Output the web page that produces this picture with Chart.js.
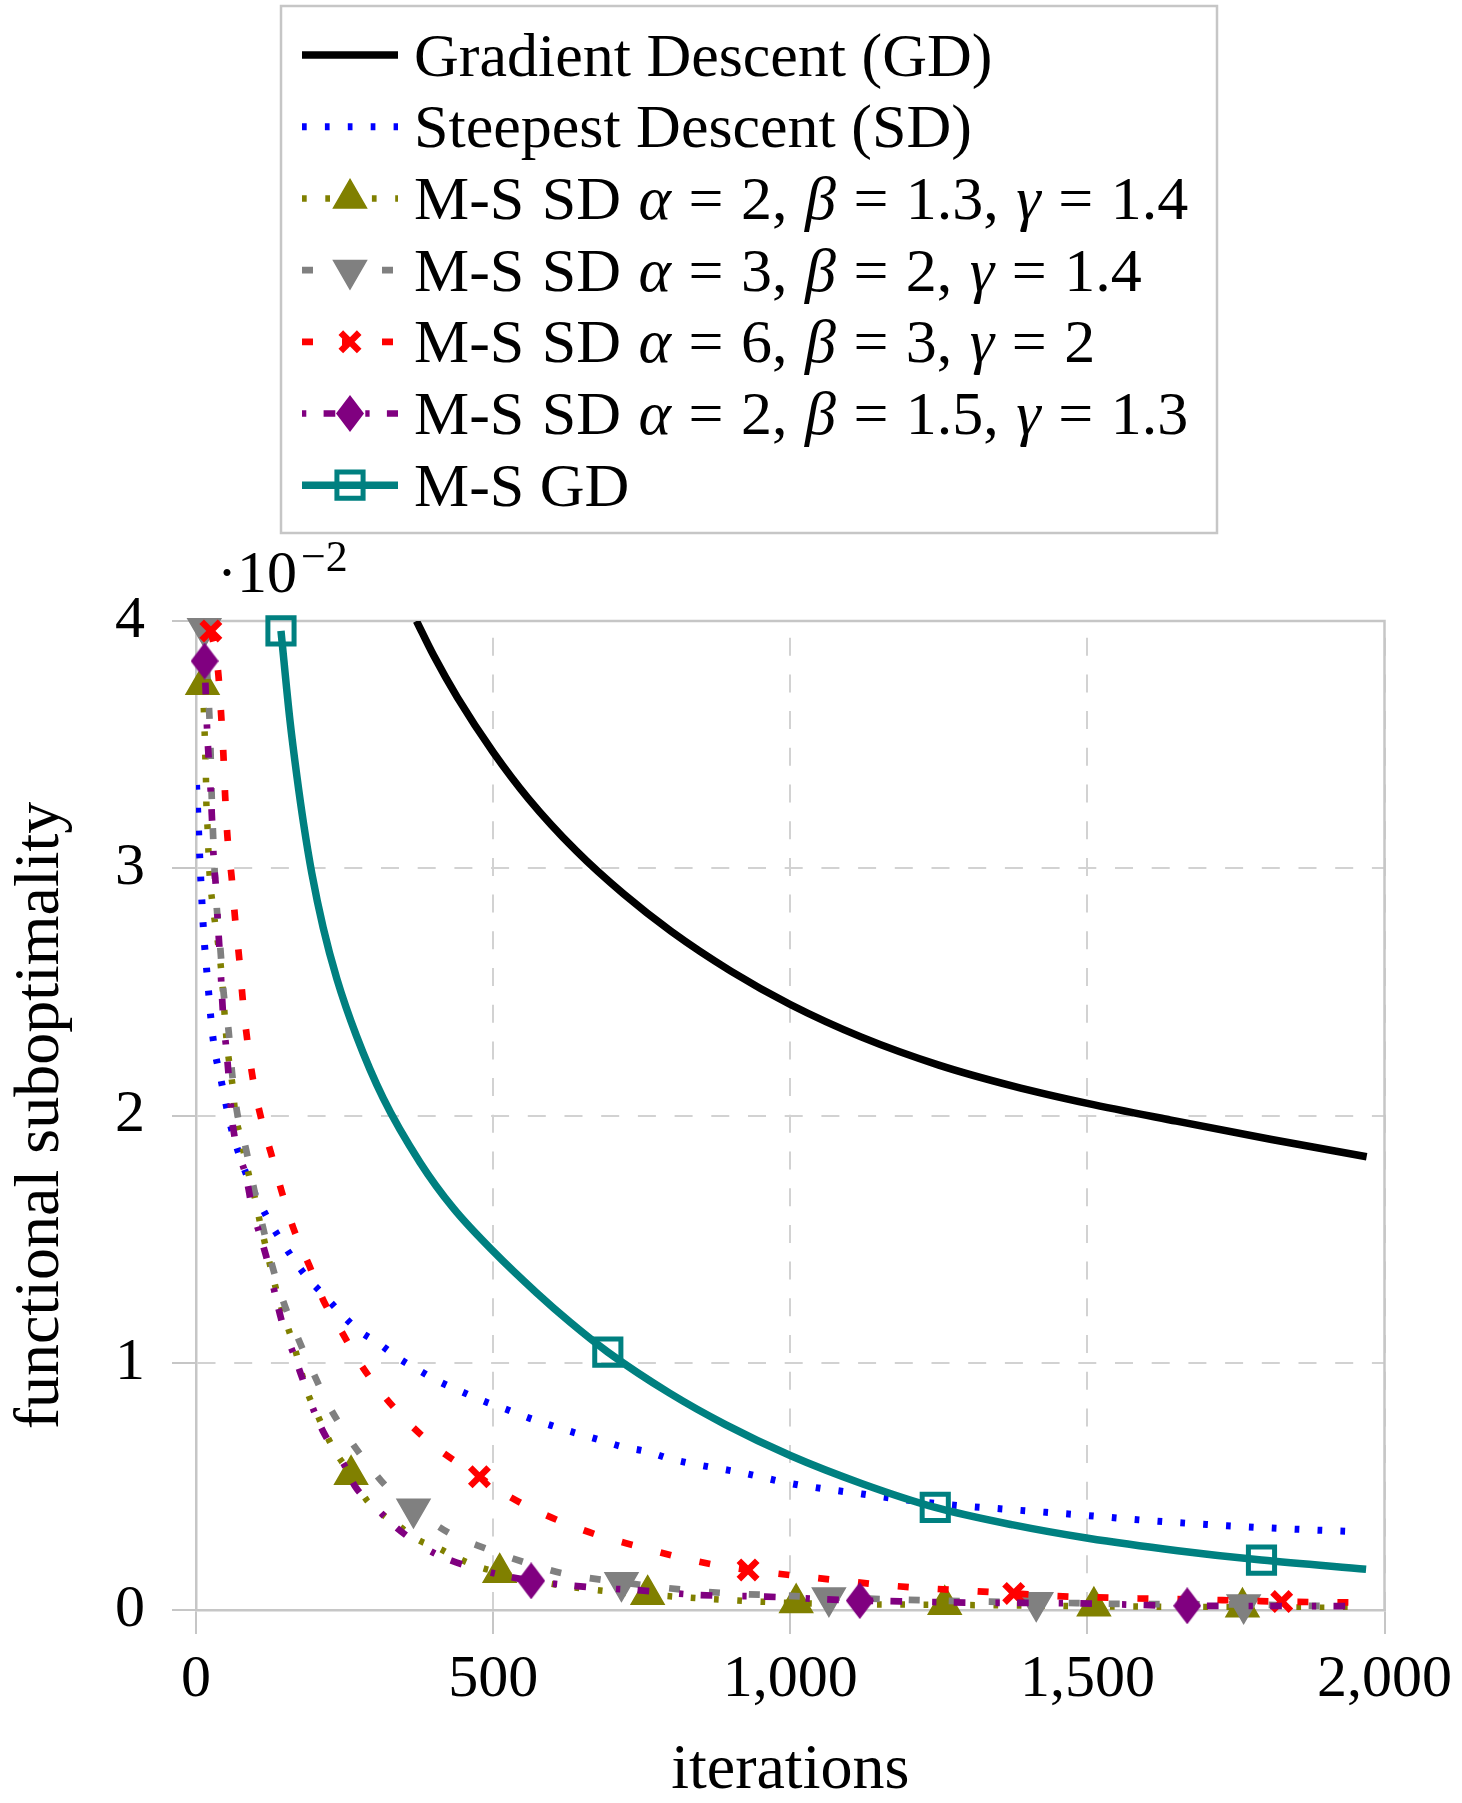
<!DOCTYPE html>
<html>
<head>
<meta charset="utf-8">
<script src="https://cdn.jsdelivr.net/npm/chart.js@4"></script>
<style>
  html, body { margin: 0; padding: 0; background: #fff; }
  canvas { display: block; }
</style>
</head>
<body>
<canvas id="plot" width="1462" height="1803"></canvas>
<script>
// Suboptimality f(x_k) - f* per iteration, values in units of 1e-2 (axis shows the ·10^-2 factor)

// Gradient Descent (GD)
const gdIter = [371, 400, 440, 500, 560, 640, 720, 800, 900, 1000, 1120, 1250, 1375, 1500, 1650, 1810, 1970];
const gdVal  = [4.00, 3.86, 3.69, 3.47, 3.28, 3.07, 2.895, 2.744, 2.584, 2.449, 2.317, 2.204, 2.119, 2.049, 1.977, 1.903, 1.833];

// Steepest Descent (SD)
const sdIter = [1, 4.5, 8.4, 12.8, 19.5, 27, 32.4, 41, 49, 58, 83, 119, 139, 161, 186, 215, 242, 273, 307, 341, 374, 410, 450, 486, 525, 562, 601, 640, 679, 718, 760, 800, 923, 1000, 1121, 1244, 1366, 1490, 1612, 1735, 1858, 1950];
const sdVal  = [3.337, 3.141, 2.939, 2.743, 2.548, 2.346, 2.252, 2.157, 2.063, 1.962, 1.773, 1.591, 1.51, 1.429, 1.348, 1.274, 1.204, 1.132, 1.079, 1.018, 0.971, 0.923, 0.88, 0.843, 0.809, 0.775, 0.744, 0.715, 0.688, 0.66, 0.64, 0.61, 0.553, 0.512, 0.469, 0.431, 0.407, 0.384, 0.36, 0.341, 0.326, 0.317];

// M-S SD alpha=2, beta=1.3, gamma=1.4
const ms1Iter = [11, 13, 14.5, 15.6, 16.8, 17.5, 19.5, 21, 23, 27, 42.5, 52, 62, 66, 74, 91, 100, 108, 116, 133, 144, 167, 186, 203, 231, 261, 287, 315, 343, 374, 408, 441, 475, 511, 593, 671, 760, 1010, 1260, 1511, 1761, 1960];
const ms1Val  = [3.742, 3.653, 3.552, 3.458, 3.357, 3.26, 3.161, 3.065, 2.969, 2.872, 2.586, 2.292, 2.11, 2.009, 1.921, 1.739, 1.658, 1.564, 1.483, 1.314, 1.22, 1.052, 0.89, 0.796, 0.654, 0.547, 0.445, 0.384, 0.337, 0.283, 0.25, 0.209, 0.175, 0.151, 0.108, 0.081, 0.062, 0.028, 0.021, 0.015, 0.011, 0.008];
const ms1MarkIter = [11, 261, 511, 760, 1010, 1260, 1511, 1761];
const ms1MarkVal  = [3.742, 0.547, 0.151, 0.062, 0.028, 0.021, 0.015, 0.011];

// M-S SD alpha=3, beta=2, gamma=1.4
const ms2Iter = [14, 21, 24, 25.7, 28, 31, 35, 41, 46, 55, 60.5, 69, 84.5, 98, 112.5, 128, 147, 171, 196.5, 223, 253.5, 288, 326, 366, 427, 486, 550, 617.5, 716, 824, 899, 970, 1065, 1327, 1414, 1545, 1763, 1898];
const ms2Val  = [3.971, 3.694, 3.519, 3.35, 3.182, 3.006, 2.838, 2.676, 2.508, 2.339, 2.177, 2.015, 1.86, 1.699, 1.55, 1.395, 1.247, 1.103, 0.964, 0.829, 0.708, 0.593, 0.485, 0.409, 0.31, 0.25, 0.195, 0.148, 0.112, 0.081, 0.067, 0.06, 0.051, 0.034, 0.031, 0.025, 0.022, 0.016];
const ms2MarkIter = [14, 366, 716, 1065, 1414, 1763];
const ms2MarkVal  = [3.971, 0.409, 0.112, 0.051, 0.031, 0.022];

// M-S SD alpha=6, beta=3, gamma=2
const ms3Iter = [25, 37, 42, 46, 49, 53, 60, 66, 73, 79, 87, 97, 111, 128, 146, 166, 191, 214, 245, 276, 312, 353, 399, 450, 477, 500, 556, 615, 676, 741, 808, 875, 929, 1014, 1085, 1157, 1228, 1299, 1376, 1442, 1585, 1727, 1827, 1955];
const ms3Val  = [3.96, 3.80, 3.633, 3.465, 3.296, 3.125, 2.963, 2.791, 2.629, 2.46, 2.292, 2.13, 1.975, 1.833, 1.678, 1.53, 1.391, 1.254, 1.126, 0.998, 0.879, 0.768, 0.667, 0.58, 0.539, 0.499, 0.421, 0.357, 0.303, 0.259, 0.216, 0.182, 0.162, 0.1375, 0.119, 0.101, 0.088, 0.078, 0.067, 0.057, 0.047, 0.04, 0.034, 0.03];
const ms3MarkIter = [25, 477, 929, 1376, 1827];
const ms3MarkVal  = [3.96, 0.539, 0.162, 0.067, 0.034];

// M-S SD alpha=2, beta=1.5, gamma=1.3
const ms4Iter = [14.5, 18.5, 21, 25, 27, 30, 33.5, 37, 40, 43.5, 46, 52, 56, 60.5, 85.6, 94, 111, 122, 136, 147, 167, 181, 200, 217, 248, 268, 304, 332, 377, 413, 469, 564, 623, 685, 738, 844, 958, 1117, 1185, 1295, 1478, 1668, 1858, 1964];
const ms4Val  = [3.838, 3.572, 3.458, 3.3, 3.195, 3.027, 2.925, 2.77, 2.656, 2.494, 2.393, 2.245, 2.13, 1.989, 1.739, 1.631, 1.49, 1.395, 1.247, 1.146, 1.018, 0.923, 0.796, 0.708, 0.593, 0.499, 0.411, 0.344, 0.263, 0.216, 0.169, 0.118, 0.101, 0.088, 0.081, 0.061, 0.054, 0.038, 0.035, 0.03, 0.027, 0.017, 0.016, 0.015];
const ms4MarkIter = [14.5, 564, 1117, 1668];
const ms4MarkVal  = [3.838, 0.118, 0.038, 0.017];

// M-S GD
const msgdIter = [143, 158, 170, 181, 195, 214, 237, 270, 315, 377, 433, 500, 573, 629, 693, 797, 891, 1000, 1121, 1244, 1375, 1501, 1652, 1793, 1969];
const msgdVal  = [3.96, 3.60, 3.368, 3.181, 2.978, 2.76, 2.553, 2.322, 2.07, 1.81, 1.625, 1.451, 1.283, 1.165, 1.043, 0.877, 0.75, 0.625, 0.511, 0.415, 0.344, 0.29, 0.24, 0.202, 0.165];
const msgdMarkIter = [143, 693, 1244, 1793];
const msgdMarkVal  = [3.96, 1.043, 0.415, 0.202];

// axis ticks
const xTicks = [0, 500, 1000, 1500, 2000];
const yTicks = [0, 1, 2, 3, 4];

// legend entries: [text, italic]
const legendLabels = [
    [['Gradient Descent (GD)']],
    [['Steepest Descent (SD)']],
    [['M-S SD '], ['α', 1], [' = 2, '], ['β', 1], [' = 1.3, '], ['γ', 1], [' = 1.4']],
    [['M-S SD '], ['α', 1], [' = 3, '], ['β', 1], [' = 2, '], ['γ', 1], [' = 1.4']],
    [['M-S SD '], ['α', 1], [' = 6, '], ['β', 1], [' = 3, '], ['γ', 1], [' = 2']],
    [['M-S SD '], ['α', 1], [' = 2, '], ['β', 1], [' = 1.5, '], ['γ', 1], [' = 1.3']],
    [['M-S GD']]
];

const FONT = '"Liberation Serif", "Times New Roman", serif';
const axisGray = '#c6c6c6';
const gridGray = '#d2d2d2';

// filled diamond, taller than wide
function diamond(w, h, color) {
    const c = document.createElement('canvas');
    c.width = w;
    c.height = h;
    const g = c.getContext('2d');
    g.fillStyle = color;
    g.beginPath();
    g.moveTo(w / 2, 0);
    g.lineTo(w, h / 2);
    g.lineTo(w / 2, h);
    g.lineTo(0, h / 2);
    g.closePath();
    g.fill();
    return c;
}

const pts = (xs, ys) => xs.map((x, i) => ({ x: x, y: ys[i] }));

const series = [
    { iter: gdIter, val: gdVal, color: '#000000', width: 7.5, dash: [] },
    { iter: sdIter, val: sdVal, color: '#0000ff', width: 7, dash: [4.7, 18.2] },
    { iter: ms1Iter, val: ms1Val, color: '#808000', width: 6.5, dash: [4.7, 18.6],
      markIter: ms1MarkIter, markVal: ms1MarkVal,
      mark: { pointStyle: 'triangle', rotation: 0, radius: 19, borderWidth: 1.5, fill: '#808000' } },
    { iter: ms2Iter, val: ms2Val, color: '#808080', width: 6.7, dash: [11, 29],
      markIter: ms2MarkIter, markVal: ms2MarkVal,
      mark: { pointStyle: 'triangle', rotation: 180, radius: 19, borderWidth: 1.5, fill: '#808080' } },
    { iter: ms3Iter, val: ms3Val, color: '#ff0000', width: 6.7, dash: [11, 29],
      markIter: ms3MarkIter, markVal: ms3MarkVal,
      mark: { pointStyle: 'crossRot', rotation: 0, radius: 13, borderWidth: 6.5, fill: '#ff0000' } },
    { iter: ms4Iter, val: ms4Val, color: '#800080', width: 6.7, dash: [4.3, 17.3, 11.7, 30],
      markIter: ms4MarkIter, markVal: ms4MarkVal,
      mark: { pointStyle: diamond(28, 37, '#800080'), rotation: 0, radius: 18, borderWidth: 0, fill: '#800080' } },
    { iter: msgdIter, val: msgdVal, color: '#008080', width: 7.5, dash: [],
      markIter: msgdMarkIter, markVal: msgdMarkVal,
      mark: { pointStyle: 'rect', rotation: 0, radius: 18.5, borderWidth: 5, fill: 'rgba(0,0,0,0)' } }
];

// later curves are painted over earlier ones, marks over their own line
const datasets = [];
series.forEach((s, k) => {
    const name = legendLabels[k].map(p => p[0]).join('');
    datasets.push({
        label: name,
        data: pts(s.iter, s.val),
        borderColor: s.color,
        borderWidth: s.width,
        borderDash: s.dash,
        borderCapStyle: 'butt',
        cubicInterpolationMode: 'monotone',
        pointRadius: 0,
        fill: false,
        order: 100 - 2 * k
    });
    if (s.mark) {
        datasets.push({
            label: name + ' marks',
            data: pts(s.markIter, s.markVal),
            showLine: false,
            pointStyle: s.mark.pointStyle,
            pointRotation: s.mark.rotation,
            pointRadius: s.mark.radius,
            pointBorderWidth: s.mark.borderWidth,
            pointBorderColor: s.color,
            pointBackgroundColor: s.mark.fill,
            clip: false,
            order: 99 - 2 * k
        });
    }
});

// solid top and right sides of the axis box
const boxFrame = {
    id: 'boxFrame',
    beforeDatasetsDraw(chart) {
        const { ctx, chartArea: a } = chart;
        ctx.save();
        ctx.strokeStyle = axisGray;
        ctx.lineWidth = 2.5;
        ctx.beginPath();
        ctx.moveTo(a.left, a.top);
        ctx.lineTo(a.right, a.top);
        ctx.lineTo(a.right, a.bottom);
        ctx.stroke();
        ctx.restore();
    }
};

// text run with wider word gaps, as in typeset math
function drawRun(ctx, txt, x, y, gap) {
    const words = txt.split(' ');
    words.forEach((w, j) => {
        if (j > 0) x += gap;
        ctx.fillText(w, x, y);
        x += ctx.measureText(w).width;
    });
    return x;
}

// boxed legend above the plot, plus the ·10^-2 factor of the y axis
const curveLegend = {
    id: 'curveLegend',
    afterDraw(chart) {
        const ctx = chart.ctx;
        ctx.save();
        ctx.fillStyle = '#ffffff';
        ctx.fillRect(281, 6, 936, 527);
        ctx.strokeStyle = axisGray;
        ctx.lineWidth = 2.5;
        ctx.strokeRect(281, 6, 936, 527);

        series.forEach((s, i) => {
            const cy = 55 + i * 71.7;
            ctx.save();
            ctx.strokeStyle = s.color;
            ctx.lineWidth = s.width;
            ctx.lineCap = 'butt';
            ctx.setLineDash(s.dash);
            ctx.beginPath();
            ctx.moveTo(302, cy);
            ctx.lineTo(398, cy);
            ctx.stroke();
            ctx.restore();

            if (s.mark) {
                ctx.save();
                ctx.setLineDash([]);
                ctx.fillStyle = s.mark.fill;
                ctx.strokeStyle = s.color;
                ctx.lineWidth = s.mark.borderWidth;
                Chart.helpers.drawPoint(ctx, {
                    pointStyle: s.mark.pointStyle,
                    rotation: s.mark.rotation,
                    radius: s.mark.radius,
                    borderWidth: s.mark.borderWidth
                }, 350, cy);
                ctx.restore();
            }

            let x = 414;
            const math = legendLabels[i].length > 1;
            ctx.fillStyle = '#000';
            ctx.textBaseline = 'alphabetic';
            legendLabels[i].forEach(([txt, it]) => {
                ctx.font = (it ? 'italic ' : '') + '62px ' + FONT;
                const gap = math ? 17.5 : ctx.measureText(' ').width;
                x = drawRun(ctx, txt, x, cy + 20.5, gap);
            });
        });

        ctx.fillStyle = '#000';
        ctx.textBaseline = 'alphabetic';
        ctx.font = '60px ' + FONT;
        ctx.fillText('·10', 217, 592);
        const ex = 217 + ctx.measureText('·10').width + 4;
        ctx.font = '44px ' + FONT;
        ctx.fillText('−2', ex, 571);
        ctx.restore();
    }
};

new Chart(document.getElementById('plot').getContext('2d'), {
    type: 'line',
    data: { datasets: datasets },
    options: {
        responsive: false,
        animation: false,
        devicePixelRatio: 1,
        events: [],
        layout: { padding: { left: 0, right: 76, top: 621, bottom: 0 } },
        plugins: {
            legend: { display: false },
            tooltip: { enabled: false }
        },
        scales: {
            x: {
                type: 'linear',
                min: xTicks[0],
                max: xTicks[xTicks.length - 1],
                afterBuildTicks: s => { s.ticks = xTicks.map(v => ({ value: v })); },
                afterFit: s => { s.height = 193; },
                ticks: {
                    color: '#000',
                    font: { family: FONT, size: 60 },
                    padding: 10,
                    maxRotation: 0,
                    autoSkip: false,
                    callback: v => v.toLocaleString('en-US')
                },
                grid: {
                    color: gridGray,
                    lineWidth: 2,
                    tickLength: 24,
                    tickColor: axisGray,
                    tickWidth: 2
                },
                border: { display: true, color: axisGray, width: 2.5, dash: [18, 18.7], dashOffset: 20 },
                title: {
                    display: true,
                    text: 'iterations',
                    color: '#000',
                    font: { family: FONT, size: 64, lineHeight: 1 },
                    padding: { top: 0, bottom: 0 }
                }
            },
            y: {
                min: yTicks[0],
                max: yTicks[yTicks.length - 1],
                afterBuildTicks: s => { s.ticks = yTicks.map(v => ({ value: v })); },
                afterFit: s => { s.width = 196; },
                ticks: {
                    color: '#000',
                    font: { family: FONT, size: 60 },
                    padding: 27,
                    autoSkip: false
                },
                grid: {
                    color: gridGray,
                    lineWidth: 2,
                    tickLength: 24,
                    tickColor: axisGray,
                    tickWidth: 2
                },
                border: { display: true, color: axisGray, width: 2.5, dash: [18, 18.7], dashOffset: 0 },
                title: {
                    display: true,
                    text: 'functional suboptimality',
                    color: '#000',
                    font: { family: FONT, size: 64, lineHeight: 1 },
                    padding: { top: 9, bottom: 0 }
                }
            }
        }
    },
    plugins: [boxFrame, curveLegend]
});
</script>
</body>
</html>
